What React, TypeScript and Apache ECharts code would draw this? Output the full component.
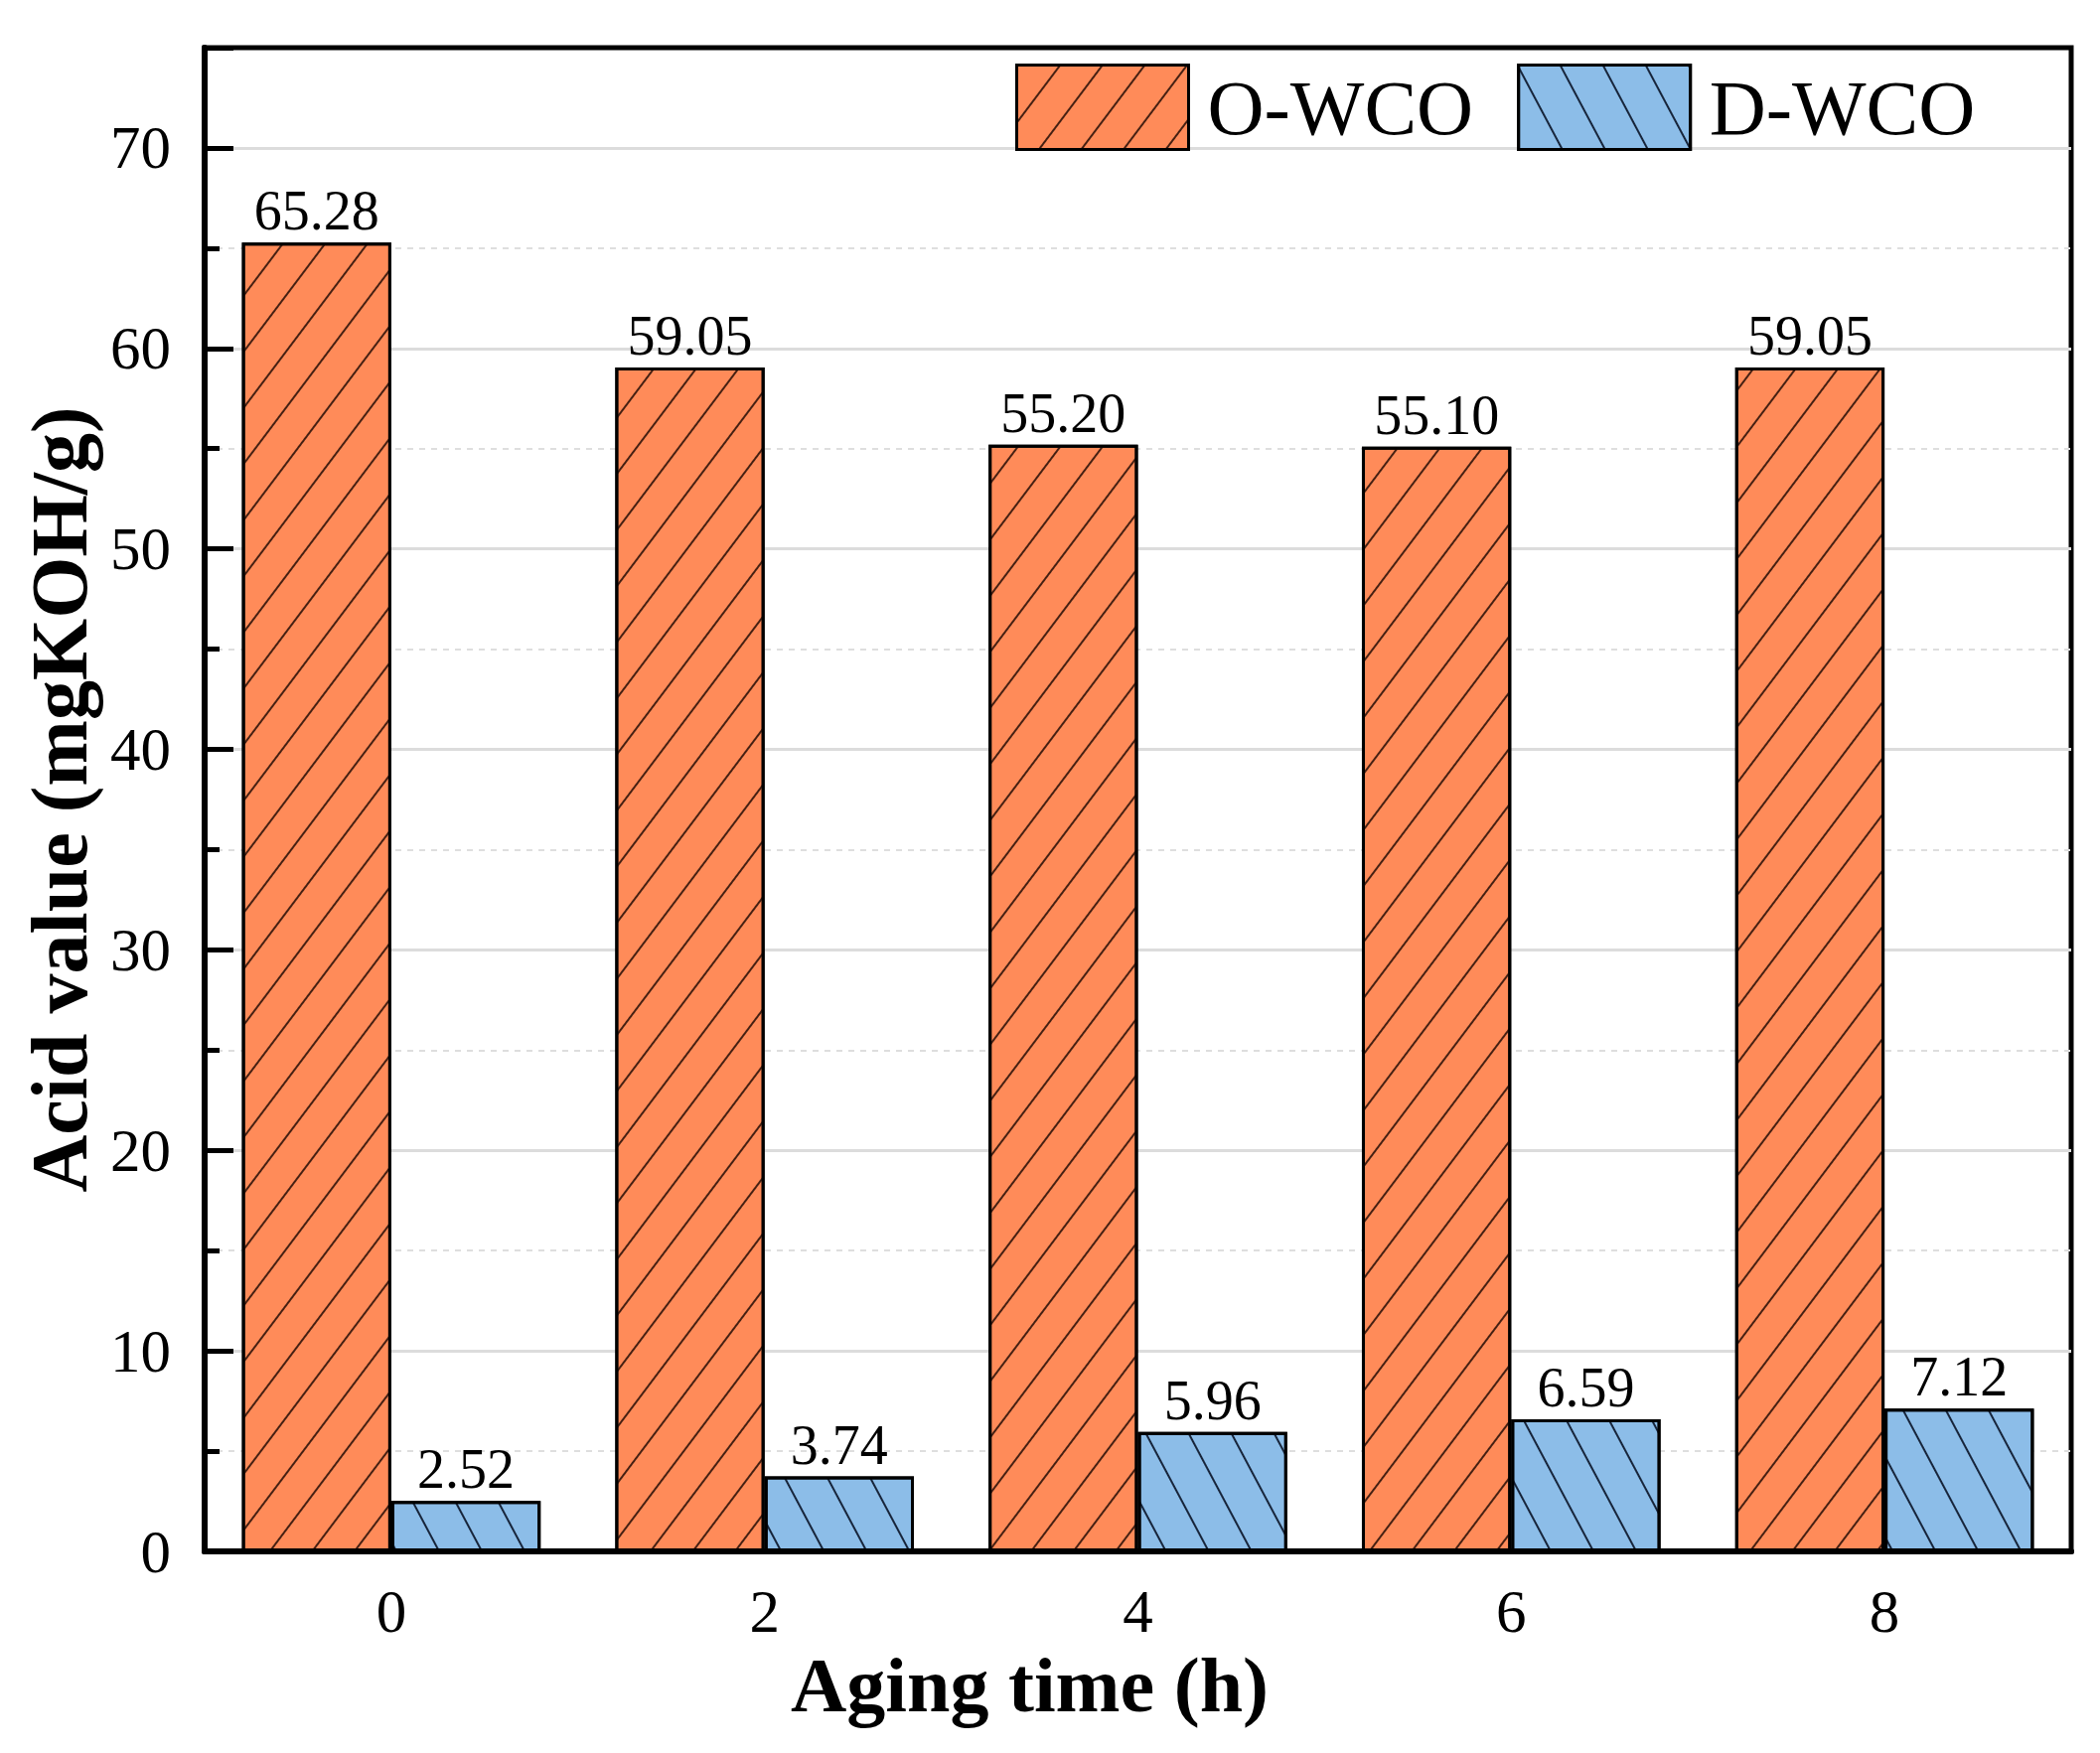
import React, { useEffect, useRef } from "react";
import * as echarts from "echarts";

const categories = ["0", "2", "4", "6", "8"];
const oWco = [65.28, 59.05, 55.2, 55.1, 59.05];
const dWco = [2.52, 3.74, 5.96, 6.59, 7.12];
const seriesNames = ["O-WCO", "D-WCO"];

const FONT = "'Liberation Serif', 'Times New Roman', Times, serif";

export default function App() {
  const ref = useRef<HTMLDivElement>(null);
  useEffect(() => {
    if (!ref.current) return;
    const chart = echarts.init(ref.current, null, { renderer: "svg" });
    const labelCfg = {
      show: true,
      position: "top",
      distance: 4,
      fontSize: 56,
      fontFamily: FONT,
      color: "#000",
      formatter: (p: any) => Number(p.value).toFixed(2),
    };
    chart.setOption({
      animation: false,
      backgroundColor: "#fff",
      textStyle: { fontFamily: FONT },
      grid: {
        left: 206,
        right: 29,
        top: 48,
        bottom: 203,
        show: true,
        borderColor: "#000",
        borderWidth: 5,
        backgroundColor: "transparent",
      },
      legend: {
        left: 1022,
        top: 64,
        padding: 0,
        itemWidth: 173,
        itemHeight: 85,
        itemGap: 44,
        icon: "rect",
        selectedMode: false,
        textStyle: {
          fontSize: 79,
          fontFamily: FONT,
          color: "#000",
          padding: [0, 0, 0, 14],
        },
        itemStyle: { borderColor: "#000", borderWidth: 3 },
        data: seriesNames,
      },
      xAxis: {
        type: "category",
        data: categories,
        name: "Aging time (h)",
        nameLocation: "middle",
        nameGap: 93,
        nameTextStyle: {
          fontSize: 78,
          fontWeight: "bold",
          fontFamily: FONT,
          color: "#000",
          padding: [0, 218, 0, 0],
        },
        axisLine: { show: true, lineStyle: { color: "#000", width: 6 } },
        axisTick: { show: false },
        axisLabel: { fontSize: 61, fontFamily: FONT, color: "#000", margin: 30 },
        splitLine: { show: false },
      },
      yAxis: [
        {
          type: "value",
          min: 0,
          max: 75,
          interval: 5,
          name: "Acid value (mgKOH/g)",
          nameLocation: "middle",
          nameGap: 100,
          nameTextStyle: {
            fontSize: 80,
            fontWeight: "bold",
            fontFamily: FONT,
            color: "#000",
          },
          axisLine: { show: true, lineStyle: { color: "#000", width: 6 } },
          axisTick: { show: true, inside: true, length: 15, lineStyle: { color: "#000", width: 5 } },
          axisLabel: {
            fontSize: 61,
            fontFamily: FONT,
            color: "#000",
            margin: 34,
            formatter: (v: number) => (v % 10 === 0 ? String(v) : ""),
          },
          splitLine: {
            show: true,
            showMinLine: false,
            showMaxLine: false,
            lineStyle: { color: "#dedede", width: 2, type: [6, 6] },
          },
        },
        {
          type: "value",
          min: 0,
          max: 75,
          interval: 10,
          position: "left",
          axisLine: { show: false },
          axisTick: { show: true, inside: true, length: 29, lineStyle: { color: "#000", width: 5 } },
          axisLabel: { show: false },
          splitLine: {
            show: true,
            showMinLine: false,
            showMaxLine: false,
            lineStyle: { color: "#dcdcdc", width: 3, type: "solid" },
          },
        },
      ],
      series: [
        {
          name: seriesNames[0],
          type: "bar",
          data: oWco,
          yAxisIndex: 0,
          barGap: "0%",
          barCategoryGap: "20%",
          itemStyle: {
            color: "#FF8B59",
            borderColor: "#000",
            borderWidth: 3,
            decal: {
              symbol: "rect",
              symbolSize: 1,
              color: "rgba(50,20,10,0.9)",
              dashArrayX: [1, 0],
              dashArrayY: [2, 32],
              rotation: (-53 * Math.PI) / 180,
            },
          },
          label: labelCfg,
        },
        {
          name: seriesNames[1],
          type: "bar",
          data: dWco,
          yAxisIndex: 0,
          barGap: "0%",
          barCategoryGap: "20%",
          itemStyle: {
            color: "#8CBDE8",
            borderColor: "#000",
            borderWidth: 3,
            decal: {
              symbol: "rect",
              symbolSize: 1,
              color: "rgba(10,20,40,0.9)",
              dashArrayX: [1, 0],
              dashArrayY: [2, 36],
              rotation: (62 * Math.PI) / 180,
            },
          },
          label: labelCfg,
        },
      ],
    });
    return () => chart.dispose();
  }, []);
  return (
    <div
      ref={ref}
      style={{ position: "absolute", left: 0, top: 0, width: 2114, height: 1765 }}
    />
  );
}
